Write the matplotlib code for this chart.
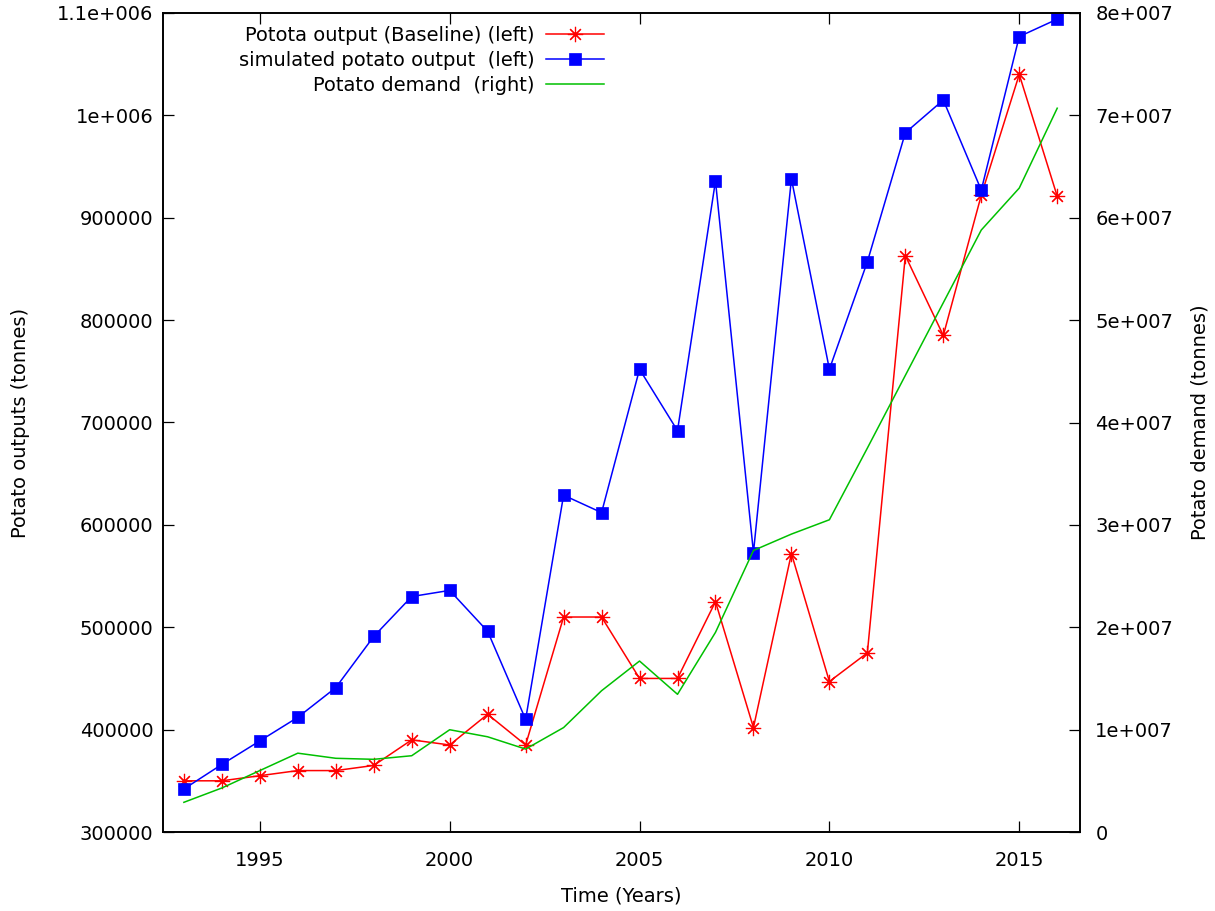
import matplotlib
matplotlib.use("Agg")
import matplotlib.pyplot as plt
from matplotlib.ticker import FixedLocator, FixedFormatter

plt.rcParams['font.family'] = ['DejaVu Sans']

years = list(range(1993, 2017))
baseline = [350000, 350000, 355000, 360000, 360000, 365000, 390000, 385000,
            415000, 385000, 510000, 510000, 450000, 450000, 525000, 402000,
            572000, 447000, 475000, 863000, 785000, 922000, 1040000, 921000]
simulated = [342000, 366000, 389000, 412000, 441000, 491000, 530000, 536000,
             496000, 410000, 629000, 612000, 752000, 692000, 936000, 573000,
             938000, 752000, 857000, 983000, 1015000, 927000, 1077000, 1094000]
demand = [2.9e6, 4.3e6, 6.0e6, 7.7e6, 7.2e6, 7.1e6, 7.45e6, 9.99e6,
          9.3e6, 8.1e6, 1.02e7, 1.38e7, 1.67e7, 1.345e7, 1.95e7, 2.75e7,
          2.91e7, 3.05e7, 3.75e7, 4.46e7, 5.17e7, 5.88e7, 6.29e7, 7.07e7]

xticks = [1995, 2000, 2005, 2010, 2015]
xtick_labels = ["1995", "2000", "2005", "2010", "2015"]
yticks = [300000, 400000, 500000, 600000, 700000, 800000, 900000, 1000000, 1100000]
ytick_labels = ["300000", "400000", "500000", "600000", "700000", "800000",
                "900000", "1e+006", "1.1e+006"]
y2ticks = [0, 1e7, 2e7, 3e7, 4e7, 5e7, 6e7, 7e7, 8e7]
y2tick_labels = ["0", "1e+007", "2e+007", "3e+007", "4e+007", "5e+007",
                 "6e+007", "7e+007", "8e+007"]

label_base = "Potota output (Baseline) (left)"
label_sim = "simulated potato output  (left)"
label_dem = "Potato demand  (right)"

fig = plt.figure(figsize=(12.15, 9.11), dpi=100)
ax = fig.add_axes([163/1215, 1-832/911, (1080-163)/1215, (832-13)/911])
ax2 = ax.twinx()

red = '#ff0000'
blue = '#0000ff'
green = '#00c000'

l1, = ax.plot(years, baseline, color=red, lw=1.1, marker=(8, 2, 0), ms=11,
              mew=0.85, mec=red, label=label_base)
l2, = ax.plot(years, simulated, color=blue, lw=1.1, marker='s', ms=9,
              mec=blue, mfc=blue, mew=0.5, label=label_sim)
l3, = ax2.plot(years, demand, color=green, lw=1.1, label=label_dem)

ax.set_xlim(1992.45, 2016.6)
ax.set_ylim(300000, 1100000)
ax2.set_ylim(0, 8e7)

ax.xaxis.set_major_locator(FixedLocator(xticks))
ax.xaxis.set_major_formatter(FixedFormatter(xtick_labels))
ax.yaxis.set_major_locator(FixedLocator(yticks))
ax.yaxis.set_major_formatter(FixedFormatter(ytick_labels))
ax2.yaxis.set_major_locator(FixedLocator(y2ticks))
ax2.yaxis.set_major_formatter(FixedFormatter(y2tick_labels))

fs = 14
ax.tick_params(axis='x', direction='in', top=True, bottom=True, length=8,
               width=0.9, labelsize=fs, pad=14)
ax.tick_params(axis='y', direction='in', left=True, right=False, length=8,
               width=0.9, labelsize=fs, pad=7)
ax2.tick_params(axis='y', direction='in', right=True, left=False, length=8,
                width=0.9, labelsize=fs, pad=11)
for a in (ax, ax2):
    for s in a.spines.values():
        s.set_linewidth(1.2)
        s.set_color('black')

ax.set_xlabel("Time (Years)", fontsize=fs)
ax.xaxis.set_label_coords(0.5, (832-886)/819)
ax.set_ylabel("Potato outputs (tonnes)", fontsize=fs)
ax.yaxis.set_label_coords((30-163)/917, 0.5)
ax2.set_ylabel("Potato demand (tonnes)", fontsize=fs)
ax2.yaxis.set_label_coords((1191-163)/917, 0.5)

leg = ax.legend(handles=[l1, l2, l3], loc='upper right',
                bbox_to_anchor=((604-163)/917, (832-26)/819),
                frameon=False, markerfirst=False, fontsize=fs,
                handlelength=3.0, handletextpad=0.55, labelspacing=0.3,
                borderaxespad=0, borderpad=0)

fig.savefig("out.png", dpi=100)
